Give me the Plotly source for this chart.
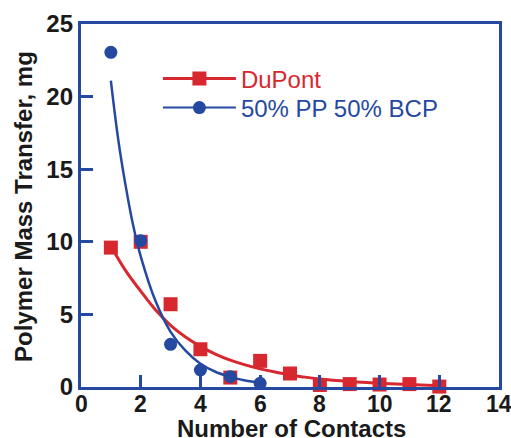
import plotly.graph_objects as go

RED = "#d7282f"
BLUE = "#2549a0"

# Measured data
contacts_dupont = [1, 2, 3, 4, 5, 6, 7, 8, 9, 10, 11, 12]
mass_dupont = [9.6, 10.0, 5.7, 2.6, 0.65, 1.8, 0.93, 0.14, 0.2, 0.17, 0.2, 0.03]

contacts_blend = [1, 2, 3, 4, 5, 6]
mass_blend = [23.05, 10.08, 2.94, 1.17, 0.71, 0.25]

# Fitted curves
fit_dupont_x = [1.0, 1.5, 2.0, 2.5, 3.0, 3.5, 4.0, 4.5, 5.0, 5.5, 6.0, 6.5, 7.0, 7.5, 8.0, 9.0, 10.0, 11.0, 12.0]
fit_dupont_y = [9.7, 8.0, 6.6, 5.3, 4.25, 3.45, 2.8, 2.27, 1.85, 1.52, 1.25, 1.03, 0.85, 0.68, 0.55, 0.38, 0.26, 0.17, 0.09]

fit_blend_x = [1.0, 1.25, 1.5, 1.75, 2.0, 2.5, 3.0, 3.5, 4.0, 4.5, 5.0, 5.5, 6.0]
fit_blend_y = [21.1, 17.0, 13.8, 11.1, 9.0, 5.9, 3.8, 2.5, 1.6, 1.05, 0.7, 0.45, 0.3]

x_ticks = [0, 2, 4, 6, 8, 10, 12, 14]
y_ticks = [0, 5, 10, 15, 20, 25]

series_names = ["DuPont", "50% PP 50% BCP"]
x_title = "Number of Contacts"
y_title = "Polymer Mass Transfer, mg"

fig = go.Figure()

fig.add_trace(go.Scatter(x=fit_dupont_x, y=fit_dupont_y, mode="lines",
                         line=dict(color=RED, width=3, shape="spline", smoothing=1.0),
                         showlegend=False, hoverinfo="skip"))
fig.add_trace(go.Scatter(x=contacts_dupont, y=mass_dupont, mode="markers",
                         marker=dict(symbol="square", size=14, color=RED),
                         showlegend=False, cliponaxis=False))
fig.add_trace(go.Scatter(x=fit_blend_x, y=fit_blend_y, mode="lines",
                         line=dict(color=BLUE, width=2.5, shape="spline", smoothing=1.0),
                         showlegend=False, hoverinfo="skip"))
fig.add_trace(go.Scatter(x=contacts_blend, y=mass_blend, mode="markers",
                         marker=dict(symbol="circle", size=13, color=BLUE),
                         showlegend=False, cliponaxis=False))

# legend entries
fig.add_trace(go.Scatter(x=[None], y=[None], mode="lines+markers",
                         name=f"<span style='color:{RED}'>{series_names[0]}</span>",
                         line=dict(color=RED, width=3),
                         marker=dict(symbol="square", size=14, color=RED),
                         legend="legend"))
fig.add_trace(go.Scatter(x=[None], y=[None], mode="lines+markers",
                         name=f"<span style='color:{BLUE}'>{series_names[1]}</span>",
                         line=dict(color=BLUE, width=2),
                         marker=dict(symbol="circle", size=13, color=BLUE),
                         legend="legend2"))

axis_font = dict(family="Liberation Sans, Arial", size=24, color="#1a1a1a", weight="bold")
xtick_font = dict(family="Liberation Sans, Arial", size=23, color="#1a1a1a", weight="bold")
title_font = dict(family="Liberation Sans, Arial", size=24, color="#1a1a1a", weight="bold")
legend_font = dict(family="Liberation Sans, Arial", size=24)

legend_common = dict(xanchor="left", yanchor="middle", bgcolor="rgba(0,0,0,0)",
                     borderwidth=0, font=legend_font, itemwidth=73)

# x tick labels placed on the x scale, just below the axis
x_label_annotations = [
    dict(text=str(v), x=v, xref="x", y=0, yref="paper", yshift=-17,
         xanchor="center", yanchor="middle", showarrow=False, font=xtick_font)
    for v in x_ticks
]

fig.update_layout(
    width=511, height=438,
    margin=dict(l=81, r=12, t=24, b=51),
    paper_bgcolor="white", plot_bgcolor="white",
    showlegend=True,
    legend=dict(x=0.184, y=0.8485, **legend_common),
    legend2=dict(x=0.184, y=0.7686, **legend_common),
    xaxis=dict(range=[0, 14], tickvals=x_ticks, showticklabels=False,
               showgrid=False, zeroline=False, automargin=False,
               showline=True, linecolor=BLUE, linewidth=3.3, mirror=True,
               ticks="inside", ticklen=12, tickwidth=2.5, tickcolor=BLUE),
    yaxis=dict(range=[0, 25], tickvals=y_ticks, ticktext=[str(v) for v in y_ticks],
               showgrid=False, zeroline=False, automargin=False,
               showline=True, linecolor=BLUE, linewidth=3.3, mirror=True,
               ticks="inside", ticklen=12, tickwidth=2.5, tickcolor=BLUE,
               tickfont=axis_font, ticklabeloverflow="allow"),
    annotations=x_label_annotations + [
        dict(text=x_title, xref="paper", yref="paper", x=0.5024, y=0, yshift=-41,
             xanchor="center", yanchor="middle", showarrow=False, font=title_font),
        dict(text=y_title, xref="paper", yref="paper", x=-0.1388, y=0.4986,
             xanchor="center", yanchor="middle", showarrow=False, font=title_font,
             textangle=-90),
    ],
)

fig.write_html("out.html")
